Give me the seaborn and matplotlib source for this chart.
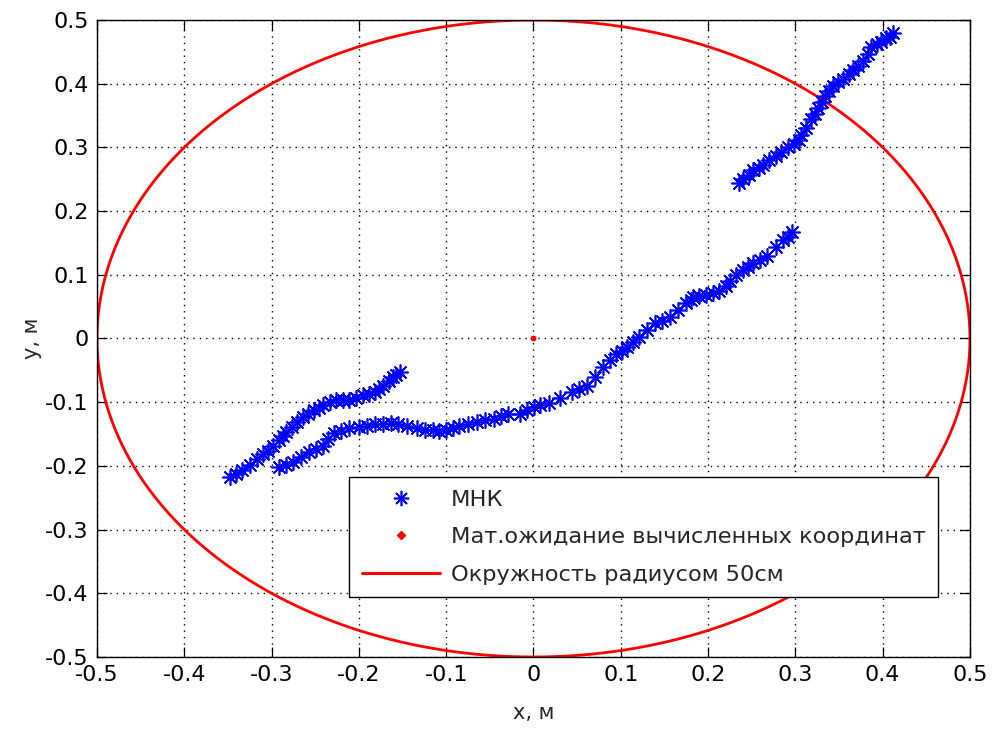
import numpy as np
import pandas as pd
import matplotlib
matplotlib.use("Agg")
import matplotlib.pyplot as plt
from matplotlib.lines import Line2D
import seaborn as sns

# ---- data ----
traj_a_x = [0.235, 0.240, 0.247, 0.252, 0.258, 0.263, 0.270, 0.278, 0.284, 0.292,
            0.298, 0.304, 0.307, 0.312, 0.318, 0.322, 0.326, 0.330, 0.334, 0.338,
            0.343, 0.349, 0.355, 0.361, 0.366, 0.372, 0.378, 0.383, 0.387, 0.393,
            0.398, 0.404, 0.408, 0.412]
traj_a_y = [0.244, 0.250, 0.257, 0.264, 0.268, 0.273, 0.280, 0.287, 0.293, 0.301,
            0.305, 0.312, 0.319, 0.330, 0.345, 0.352, 0.362, 0.371, 0.380, 0.388,
            0.397, 0.402, 0.408, 0.415, 0.421, 0.428, 0.436, 0.446, 0.457, 0.462,
            0.466, 0.471, 0.474, 0.479]

traj_b_x = [-0.291, -0.284, -0.275, -0.266, -0.257, -0.249, -0.241, -0.235, -0.228, -0.220,
            -0.211, -0.200, -0.191, -0.181, -0.172, -0.163, -0.155, -0.145, -0.134, -0.124,
            -0.115, -0.108, -0.100, -0.092, -0.085, -0.075, -0.065, -0.055, -0.045, -0.037,
            -0.029, -0.016, -0.008, 0.001, 0.008, 0.018, 0.030, 0.044, 0.052, 0.061,
            0.070, 0.080, 0.088, 0.095, 0.101, 0.107, 0.114, 0.121, 0.130, 0.139,
            0.147, 0.156, 0.165, 0.175, 0.180, 0.183, 0.190, 0.198, 0.206, 0.213,
            0.220, 0.225, 0.232, 0.240, 0.246, 0.252, 0.260, 0.267, 0.278, 0.286,
            0.292, 0.296]
traj_b_y = [-0.202, -0.199, -0.194, -0.186, -0.178, -0.173, -0.168, -0.158, -0.149, -0.145,
            -0.141, -0.139, -0.137, -0.135, -0.134, -0.133, -0.134, -0.137, -0.141, -0.143,
            -0.144, -0.145, -0.144, -0.140, -0.137, -0.134, -0.131, -0.128, -0.126, -0.122,
            -0.118, -0.118, -0.113, -0.108, -0.105, -0.102, -0.094, -0.084, -0.079, -0.074,
            -0.060, -0.045, -0.034, -0.024, -0.019, -0.014, -0.006, 0.002, 0.013, 0.024,
            0.028, 0.033, 0.044, 0.055, 0.060, 0.065, 0.067, 0.068, 0.071, 0.075,
            0.083, 0.091, 0.099, 0.107, 0.113, 0.118, 0.124, 0.130, 0.143, 0.154,
            0.160, 0.167]

traj_c_x = [-0.348, -0.341, -0.334, -0.325, -0.317, -0.310, -0.304, -0.298, -0.292, -0.287,
            -0.283, -0.277, -0.271, -0.264, -0.258, -0.252, -0.246, -0.241, -0.233, -0.226,
            -0.218, -0.211, -0.203, -0.195, -0.188, -0.182, -0.177, -0.172, -0.166, -0.161,
            -0.157, -0.153]
traj_c_y = [-0.218, -0.212, -0.207, -0.198, -0.189, -0.182, -0.176, -0.168, -0.160, -0.153,
            -0.147, -0.139, -0.131, -0.124, -0.118, -0.113, -0.109, -0.105, -0.100, -0.097,
            -0.096, -0.097, -0.093, -0.089, -0.087, -0.084, -0.079, -0.074, -0.067, -0.061,
            -0.057, -0.053]

mean_x = [0.0]
mean_y = [0.0]
circle_radius = 0.5

x_ticks = [-0.5, -0.4, -0.3, -0.2, -0.1, 0, 0.1, 0.2, 0.3, 0.4, 0.5]
y_ticks = [-0.5, -0.4, -0.3, -0.2, -0.1, 0, 0.1, 0.2, 0.3, 0.4, 0.5]
x_tick_labels = ["-0.5", "-0.4", "-0.3", "-0.2", "-0.1", "0", "0.1", "0.2", "0.3", "0.4", "0.5"]
y_tick_labels = ["-0.5", "-0.4", "-0.3", "-0.2", "-0.1", "0", "0.1", "0.2", "0.3", "0.4", "0.5"]

legend_labels = ["МНК", "Мат.ожидание вычисленных координат", "Окружность радиусом 50см"]
x_label = "x, м"
y_label = "y, м"

# ---- build tables ----
mnk = pd.DataFrame({
    "x": traj_c_x + traj_b_x + traj_a_x,
    "y": traj_c_y + traj_b_y + traj_a_y,
})
theta = np.linspace(0, 2 * np.pi, 721)
circle = pd.DataFrame({"x": circle_radius * np.cos(theta),
                       "y": circle_radius * np.sin(theta)})
mean_df = pd.DataFrame({"x": mean_x, "y": mean_y})

# ---- style ----
sns.set_theme(style="white")
plt.rcParams["font.family"] = ["DejaVu Sans"]

fig = plt.figure(figsize=(9.97, 7.33), dpi=100)
fig.patch.set_facecolor("white")
ax = fig.add_axes([0.0973, 0.1037, 0.8756, 0.869])
ax.set_facecolor("white")

star = (8, 2, 0)

sns.scatterplot(data=mnk, x="x", y="y", ax=ax, marker=star, s=120,
                color="#0000ff", edgecolor="#0000ff", linewidth=1.2, zorder=3,
                legend=False)
sns.scatterplot(data=mean_df, x="x", y="y", ax=ax, marker="o", s=18,
                color="#ff0000", edgecolor="#ff0000", linewidth=0, zorder=4,
                legend=False)
sns.lineplot(data=circle, x="x", y="y", ax=ax, sort=False, estimator=None,
             color="#ff0000", linewidth=2.0, zorder=2, legend=False)

ax.set_xlim(-0.5, 0.5)
ax.set_ylim(-0.5, 0.5)
ax.set_xticks(x_ticks)
ax.set_yticks(y_ticks)
ax.set_xticklabels(x_tick_labels)
ax.set_yticklabels(y_tick_labels)
ax.tick_params(direction="in", length=7, width=0.9, colors="black",
               labelsize=16, top=True, right=True, bottom=True, left=True)
ax.tick_params(axis="x", pad=6)
ax.tick_params(axis="y", pad=6)
for s in ax.spines.values():
    s.set_visible(True)
    s.set_color("black")
    s.set_linewidth(1.0)

ax.grid(True, color="black", linestyle=(0, (1, 3.6)), linewidth=1.0)
ax.set_axisbelow(True)

ax.set_xlabel(x_label, fontsize=15, labelpad=13)
ax.set_ylabel(y_label, fontsize=15, labelpad=2)

handles = [
    Line2D([], [], linestyle="none", marker=star, markersize=11,
           markeredgewidth=1.2, color="#0000ff"),
    Line2D([], [], linestyle="none", marker="D", markersize=4,
           color="#ff0000"),
    Line2D([], [], linestyle="-", linewidth=2.2, color="#ff0000"),
]
leg = ax.legend(handles, legend_labels, loc="lower left",
                bbox_to_anchor=(0.289, 0.094), fontsize=16.2, frameon=True,
                fancybox=False, edgecolor="black", framealpha=1,
                handlelength=3.5, handletextpad=0.45, borderpad=0.55,
                labelspacing=0.78, borderaxespad=0)
leg.get_frame().set_linewidth(1.0)

fig.savefig("out.png", dpi=100, facecolor="white")
